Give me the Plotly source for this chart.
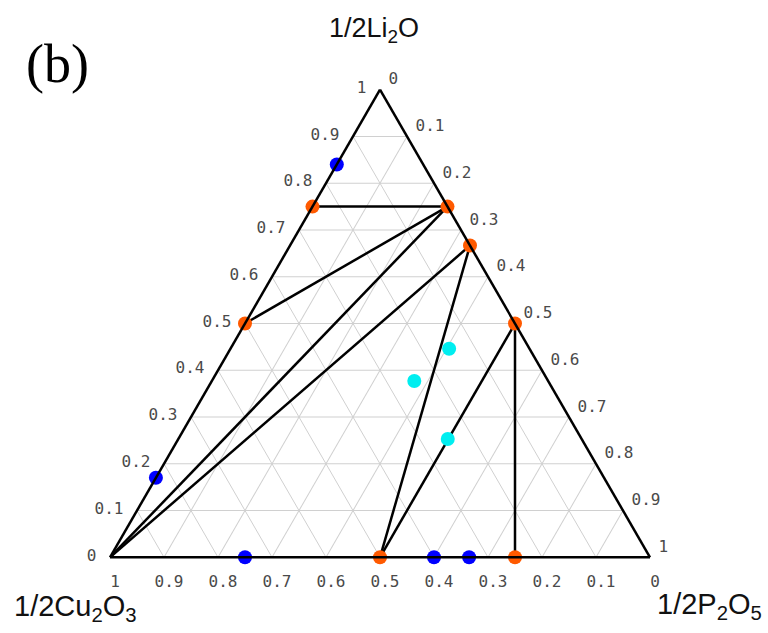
import plotly.graph_objects as go

# ---- data (fractions: a = 1/2Li2O, b = 1/2Cu2O3, c = 1/2P2O5) ----
orange_li = [0.75, 0.75, 2/3, 0.50, 0.50, 0.00, 0.00]
orange_cu = [0.25, 0.00, 0.00, 0.00, 0.50, 0.50, 0.25]
orange_p  = [0.00, 0.25, 1/3, 0.50, 0.00, 0.50, 0.75]

blue_li = [0.84, 0.17, 0.00, 0.00, 0.00]
blue_cu = [0.16, 0.83, 0.75, 0.40, 0.335]
blue_p  = [0.00, 0.00, 0.25, 0.60, 0.665]

cyan_li = [0.446, 0.377, 0.253]
cyan_cu = [0.149, 0.248, 0.248]
cyan_p  = [0.405, 0.375, 0.499]

# tie lines: (start Li, Cu, P) -> (end Li, Cu, P)
tie_start_li = [0.75, 0.50, 0.00, 0.00, 2/3, 0.50, 0.50]
tie_start_cu = [0.25, 0.50, 1.00, 1.00, 0.00, 0.00, 0.00]
tie_start_p  = [0.00, 0.00, 0.00, 0.00, 1/3, 0.50, 0.50]
tie_end_li   = [0.75, 0.75, 0.75, 2/3, 0.00, 0.00, 0.00]
tie_end_cu   = [0.00, 0.00, 0.00, 0.00, 0.50, 0.50, 0.25]
tie_end_p    = [0.25, 0.25, 0.25, 1/3, 0.50, 0.50, 0.75]

tick_vals = [0, 0.1, 0.2, 0.3, 0.4, 0.5, 0.6, 0.7, 0.8, 0.9, 1]
tick_text = ["0", "0.1", "0.2", "0.3", "0.4", "0.5", "0.6", "0.7", "0.8", "0.9", "1"]

W, H = 768, 633

fig = go.Figure()

# tie lines
for i in range(len(tie_start_li)):
    fig.add_trace(go.Scatterternary(
        a=[tie_start_li[i], tie_end_li[i]],
        b=[tie_start_cu[i], tie_end_cu[i]],
        c=[tie_start_p[i], tie_end_p[i]],
        mode="lines", line=dict(color="black", width=2.5),
        cliponaxis=False, showlegend=False, hoverinfo="skip"))

fig.add_trace(go.Scatterternary(a=blue_li, b=blue_cu, c=blue_p, mode="markers", cliponaxis=False,
                                marker=dict(color="#0000ff", size=14), showlegend=False))
fig.add_trace(go.Scatterternary(a=cyan_li, b=cyan_cu, c=cyan_p, mode="markers", cliponaxis=False,
                                marker=dict(color="#00eef0", size=14), showlegend=False))
fig.add_trace(go.Scatterternary(a=orange_li, b=orange_cu, c=orange_p, mode="markers", cliponaxis=False,
                                marker=dict(color="#ff5a00", size=14), showlegend=False))

axis_common = dict(
    tickmode="array", tickvals=tick_vals, ticktext=tick_text,
    showline=True, linecolor="black", linewidth=2.5,
    showgrid=True, gridcolor="#d0d0d0", gridwidth=1.2,
    ticks="outside", ticklen=10, tickcolor="rgba(0,0,0,0)",
    tickfont=dict(family="DejaVu Sans Mono", size=16, color="#4a4a4a"),
    min=0, title=dict(text=""),
)

fig.update_layout(
    width=W, height=H,
    margin=dict(l=0, r=0, t=0, b=0),
    paper_bgcolor="white",
    ternary=dict(
        sum=1,
        bgcolor="white",
        domain=dict(x=[110 / W, 650 / W], y=[73 / H, 546 / H]),
        aaxis=axis_common,
        baxis=axis_common,
        caxis=axis_common,
    ),
    annotations=[
        dict(text="1/2Li<sub>2</sub>O", x=374 / W, y=1 - 30 / H, xref="paper", yref="paper",
             xanchor="center", yanchor="middle",
             showarrow=False, font=dict(family="Liberation Sans", size=27, color="#111111")),
        dict(text="1/2Cu<sub>2</sub>O<sub>3</sub>", x=12 / W, y=1 - 608 / H, xref="paper", yref="paper",
             xanchor="left", yanchor="middle",
             showarrow=False, font=dict(family="Liberation Sans", size=29, color="#111111")),
        dict(text="1/2P<sub>2</sub>O<sub>5</sub>", x=764 / W, y=1 - 606 / H, xref="paper", yref="paper",
             xanchor="right", yanchor="middle",
             showarrow=False, font=dict(family="Liberation Sans", size=29, color="#111111")),
        dict(text="(b)", x=57 / W, y=1 - 64 / H, xref="paper", yref="paper",
             xanchor="center", yanchor="middle",
             showarrow=False, font=dict(family="Liberation Serif", size=54, color="black")),
    ],
)

fig.write_html("out.html")
